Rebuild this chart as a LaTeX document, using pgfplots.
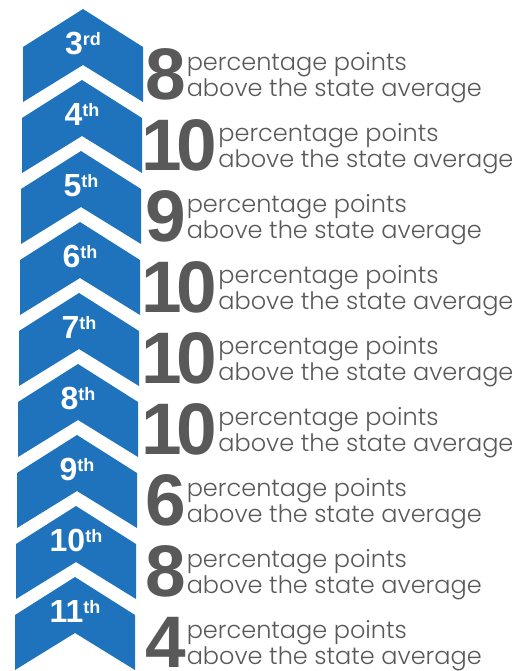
\documentclass[border=0pt]{standalone}
\usepackage{fontspec}
\setmainfont{Poppins}
\newfontfamily\lightfont{Poppins Light}
\newfontfamily\numfont{Liberation Sans}
\usepackage{pgfplots}
\usepackage{pgfplotstable}
\pgfplotsset{compat=1.18}

\definecolor{chevblue}{HTML}{1F73BD}
\definecolor{txtgray}{HTML}{595959}

% upward chevron, drawn from its tip
\pgfdeclareplotmark{chevron}{%
  \pgfpathmoveto{\pgfpoint{0pt}{0pt}}%
  \pgfpathlineto{\pgfpoint{60pt}{-38pt}}%
  \pgfpathlineto{\pgfpoint{60pt}{-93pt}}%
  \pgfpathlineto{\pgfpoint{0pt}{-56pt}}%
  \pgfpathlineto{\pgfpoint{-60pt}{-93pt}}%
  \pgfpathlineto{\pgfpoint{-60pt}{-38pt}}%
  \pgfpathclose
  \pgfusepathqfill}

\newcommand{\gradelabel}[1]{{\numfont\bfseries\fontsize{32}{32}\selectfont #1\raisebox{9pt}{\fontsize{18}{18}\selectfont\ifnum#1=3 rd\else th\fi}}}
\newcommand{\bignum}[1]{\ifnum#1=10 \kern-4pt1\kern-5pt0\else#1\fi}
\newcommand{\numberlabel}[1]{{\numfont\bfseries\fontsize{73}{73}\selectfont\bignum{#1}}\hspace{1pt}%
  \raisebox{3pt}{\lightfont\fontsize{24}{26}\selectfont\begin{tabular}[b]{@{}l@{}}percentage points\\above the state average\end{tabular}}}

\pgfplotstableread{
row cx nx grade pts
0 83 145 3 8
1 82 145 4 10
2 81 145 5 9
3 80 145 6 10
4 79 145 7 10
5 78 145 8 10
6 77 145 9 6
7 76 145 10 8
8 75 145 11 4
}\gradedata

\begin{document}
\begin{tikzpicture}
\begin{axis}[
    x=1pt, y=71pt,
    y dir=reverse,
    xmin=0, xmax=528,
    ymin=-0.12676, ymax=9.32394,
    hide axis,
    clip=false,
]
\addplot[only marks, mark=chevron, mark options={fill=chevblue, draw=none},
    point meta=explicit symbolic,
    nodes near coords={\gradelabel{\pgfplotspointmeta}},
    every node near coord/.append style={anchor=base, yshift=-45pt, text=white, inner sep=0pt},
] table[x=cx, y=row, meta=grade] {\gradedata};
\addplot[only marks, mark=none,
    point meta=explicit symbolic,
    nodes near coords={\numberlabel{\pgfplotspointmeta}},
    every node near coord/.append style={anchor=base west, yshift=-90pt, text=txtgray, inner sep=0pt},
] table[x=nx, y=row, meta=pts] {\gradedata};
\end{axis}
\pgfresetboundingbox
\path[use as bounding box] (current axis.south west) rectangle (current axis.north east);
\end{tikzpicture}
\end{document}
